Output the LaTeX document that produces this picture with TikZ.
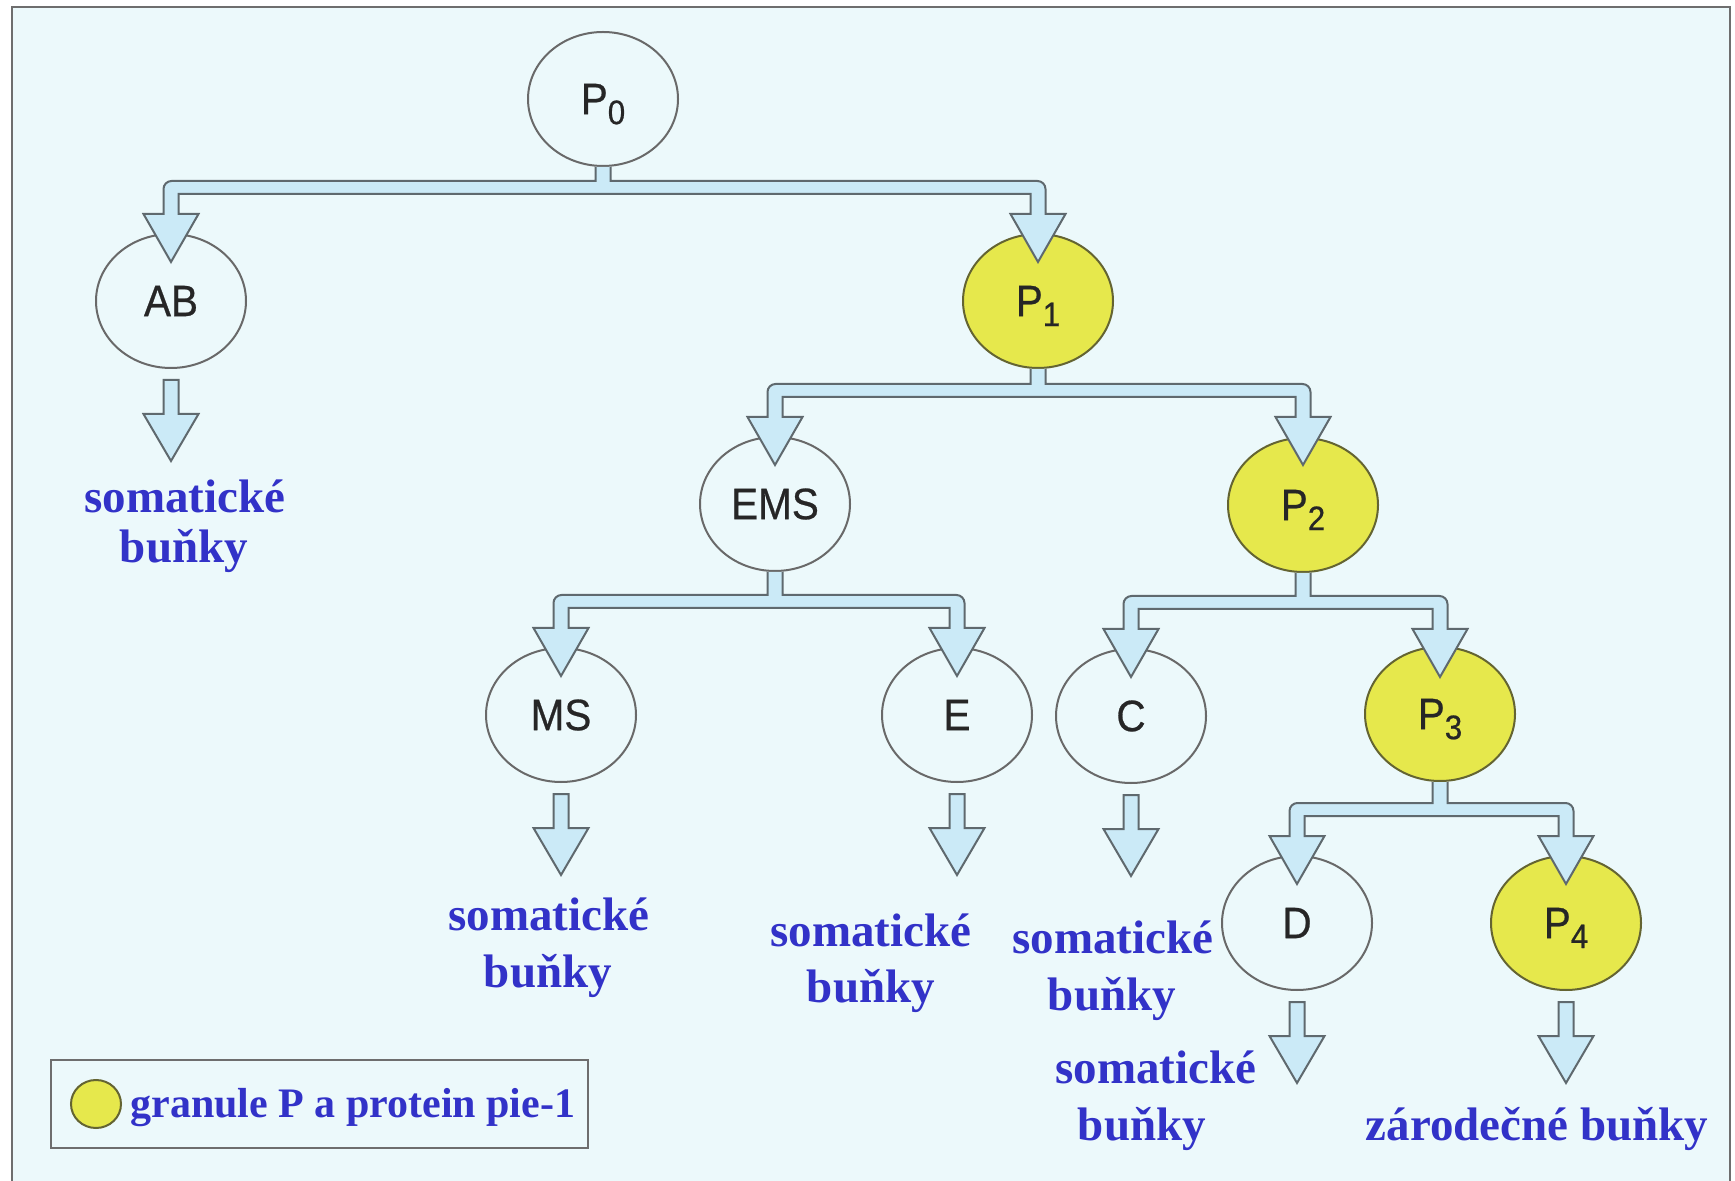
\documentclass[tikz,border=0pt]{standalone}
\usepackage{fontspec}
\setmainfont{Liberation Serif}
\newfontfamily\labfont[FakeStretch=0.92,FakeBold=0.6]{Liberation Sans}
\usetikzlibrary{shapes.geometric,calc}

\definecolor{bgc}{RGB}{236,249,251}
\definecolor{arrc}{RGB}{203,234,247}
\definecolor{arrl}{RGB}{95,105,110}
\definecolor{celll}{RGB}{105,105,105}
\definecolor{yel}{RGB}{230,232,76}
\definecolor{yell}{RGB}{100,100,50}
\definecolor{txtb}{RGB}{50,50,200}
\definecolor{framec}{RGB}{110,110,110}

\newcommand\Psub[1]{P\smash{\raisebox{-5pt}{\fontsize{17}{17}\selectfont #1}}}

% T-shaped splitting connector: parent, left child, right child
\newcommand\Tconn[3]{%
  \coordinate (#1ht) at ($(#2.north)+(0,-19)$);
  \path[conn] ($(#1.south)+(-7.5,0)$)
    -- ($(#1.south |- #1ht)+(-7.5,-33)$) [rounded corners=4]
    -- ($(#2.north |- #1ht)+(-7.5,-33)$) [sharp corners]
    -- ($(#2.north |- #1ht)+(-7.5,0)$)
    -- ($(#2.north |- #1ht)+(-27.5,0)$)
    -- ($(#2.north |- #1ht)+(0,48)$)
    -- ($(#2.north |- #1ht)+(27.5,0)$)
    -- ($(#2.north |- #1ht)+(7.5,0)$)
    -- ($(#2.north |- #1ht)+(7.5,-20)$)
    -- ($(#3.north |- #1ht)+(-7.5,-20)$)
    -- ($(#3.north |- #1ht)+(-7.5,0)$)
    -- ($(#3.north |- #1ht)+(-27.5,0)$)
    -- ($(#3.north |- #1ht)+(0,48)$)
    -- ($(#3.north |- #1ht)+(27.5,0)$)
    -- ($(#3.north |- #1ht)+(7.5,0)$) [rounded corners=4]
    -- ($(#3.north |- #1ht)+(7.5,-33)$) [sharp corners]
    -- ($(#1.south |- #1ht)+(7.5,-33)$)
    -- ($(#1.south)+(7.5,0)$);
}
% single downward arrow below a node
\newcommand\Dconn[1]{%
  \path[conn] ($(#1.south)+(-7.5,11)$)
    -- ($(#1.south)+(-7.5,45)$)
    -- ($(#1.south)+(-27.5,45)$)
    -- ($(#1.south)+(0,92)$)
    -- ($(#1.south)+(27.5,45)$)
    -- ($(#1.south)+(7.5,45)$)
    -- ($(#1.south)+(7.5,11)$) -- cycle;
}

\begin{document}
\begin{tikzpicture}[x=0.5pt,y=-0.5pt,
  cell/.style={ellipse, draw=celll, line width=1pt, fill=bgc,
    minimum width=75pt, minimum height=67pt, inner sep=0pt,
    font=\labfont\fontsize{22}{22}\selectfont, text=black!85},
  ycell/.style={cell, fill=yel, draw=yell},
  conn/.style={fill=arrc, draw=arrl, line width=1pt, line join=miter},
  blab/.style={font=\fontsize{23.5}{23.5}\selectfont\bfseries, text=txtb,
    anchor=base, inner sep=0pt}]
\useasboundingbox (0,0) rectangle (1735,1181);
\fill[white] (0,0) rectangle (1735,1181);
\fill[bgc] (12,7) rectangle (1730,1181);
\draw[framec, line width=1pt] (12,1181) -- (12,7) -- (1730,7) -- (1730,1181);

% cells
\node[cell]  (P0)  at (603,99)   {\Psub{0}};
\node[cell]  (AB)  at (171,301)  {AB};
\node[ycell] (P1)  at (1038,301) {\Psub{1}};
\node[cell]  (EMS) at (775,504)  {EMS};
\node[ycell] (P2)  at (1303,505) {\Psub{2}};
\node[cell]  (MS)  at (561,715)  {MS};
\node[cell]  (E)   at (957,715)  {E};
\node[cell]  (C)   at (1131,716) {C};
\node[ycell] (P3)  at (1440,714) {\Psub{3}};
\node[cell]  (D)   at (1297,923) {D};
\node[ycell] (P4)  at (1566,923) {\Psub{4}};

% connectors
\Tconn{P0}{AB}{P1}
\Tconn{P1}{EMS}{P2}
\Tconn{EMS}{MS}{E}
\Tconn{P2}{C}{P3}
\Tconn{P3}{D}{P4}
\Dconn{AB}
\Dconn{MS}
\Dconn{E}
\Dconn{C}
\Dconn{D}
\Dconn{P4}

% labels
\node[blab] (sAB1) at (185,513)  {somatické};
\node[blab] (sAB2) at (184,563)  {buňky};
\node[blab] (sMS1) at (549,930)  {somatické};
\node[blab] (sMS2) at (548,987)  {buňky};
\node[blab] (sE1)  at (871,946)  {somatické};
\node[blab] (sE2)  at (871,1002) {buňky};
\node[blab] (sC1)  at (1113,953) {somatické};
\node[blab] (sC2)  at (1112,1010) {buňky};
\node[blab] (sD1)  at (1156,1083) {somatické};
\node[blab] (sD2)  at (1142,1140) {buňky};
\node[blab] (sP4)  at (1537,1140) {zárodečné buňky};

% legend
\node[draw=framec, line width=1pt, fill=bgc, minimum width=268.5pt,
      minimum height=44pt, inner sep=0pt] (leg) at (319.5,1104) {};
\node[ellipse, draw=yell, line width=1pt, fill=yel, minimum width=25pt,
      minimum height=24pt, inner sep=0pt] (legdot) at (96,1104) {};
\node[blab, anchor=base west, font=\fontsize{21}{21}\selectfont\bfseries]
      (legtxt) at (130,1117) {granule P a protein pie-1};
\end{tikzpicture}
\end{document}
